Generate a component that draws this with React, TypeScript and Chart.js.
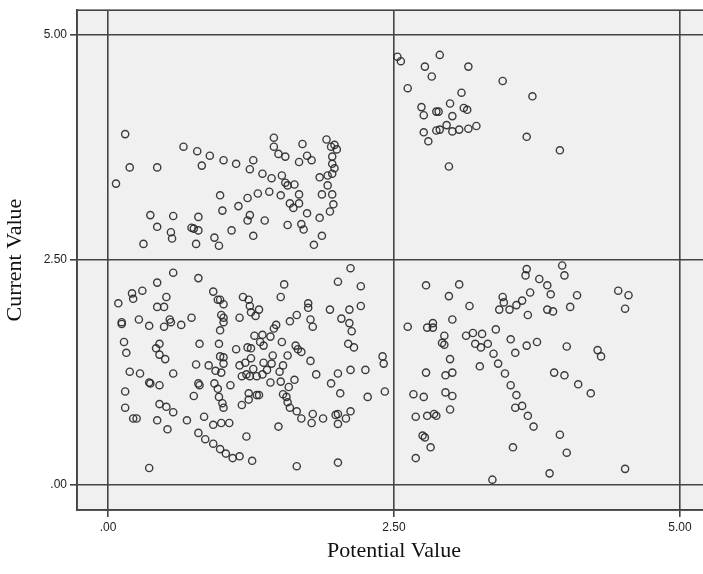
import React, { useEffect, useRef } from "react";
import { Chart, registerables } from "chart.js";

Chart.register(...registerables);

// [Potential Value, Current Value]
const upperLeft: [number, number][] = [
  [0.15, 3.9], [0.19, 3.53], [0.43, 3.53], [0.07, 3.35], [0.66, 3.76], [0.78, 3.71], [0.82, 3.55],
  [0.89, 3.66], [1.01, 3.61], [1.12, 3.57], [1.24, 3.51], [1.27, 3.61], [0.98, 3.22], [1.0, 3.05],
  [1.14, 3.1], [1.22, 3.19], [1.31, 3.24], [0.37, 3.0], [0.57, 2.99], [0.79, 2.98], [0.43, 2.87],
  [0.55, 2.81], [0.56, 2.74], [0.73, 2.86], [0.75, 2.85], [0.79, 2.83], [0.31, 2.68], [0.77, 2.68],
  [0.93, 2.75], [0.97, 2.66], [1.08, 2.83], [1.24, 3.0], [1.22, 2.94], [1.27, 2.77], [1.45, 3.86],
  [1.45, 3.76], [1.49, 3.68], [1.55, 3.65], [1.7, 3.79], [1.67, 3.59], [1.74, 3.66], [1.78, 3.61],
  [1.91, 3.84], [1.95, 3.76], [1.98, 3.78], [2.0, 3.73], [1.96, 3.65], [1.96, 3.57], [1.98, 3.52],
  [1.96, 3.46], [1.92, 3.44], [1.85, 3.42], [1.92, 3.33], [1.87, 3.23], [1.96, 3.23], [1.97, 3.12],
  [1.94, 3.04], [1.85, 2.97], [1.87, 2.77], [1.8, 2.67], [1.74, 3.02], [1.67, 3.23], [1.67, 3.13],
  [1.59, 3.13], [1.62, 3.08], [1.63, 3.34], [1.55, 3.36], [1.57, 3.33], [1.52, 3.44], [1.43, 3.41],
  [1.35, 3.46], [1.51, 3.22], [1.41, 3.26], [1.37, 2.94], [1.57, 2.89], [1.69, 2.9], [1.71, 2.84],
];

const upperRight: [number, number][] = [
  [2.53, 4.76], [2.56, 4.71], [2.9, 4.78], [2.77, 4.65], [3.15, 4.65], [2.83, 4.54], [2.62, 4.41],
  [3.45, 4.49], [3.09, 4.36], [3.71, 4.32], [2.99, 4.24], [2.74, 4.2], [2.76, 4.11], [2.87, 4.15],
  [2.89, 4.15], [3.11, 4.19], [3.14, 4.17], [3.01, 4.1], [2.96, 4.0], [3.22, 3.99], [3.15, 3.96],
  [3.07, 3.95], [3.01, 3.93], [2.9, 3.95], [2.87, 3.94], [2.76, 3.92], [2.8, 3.82], [3.66, 3.87],
  [3.95, 3.72], [2.98, 3.54],
];

const lowerLeft: [number, number][] = [
  [0.57, 2.36], [0.79, 2.3], [0.43, 2.25], [0.3, 2.16], [0.21, 2.13], [0.22, 2.07], [0.09, 2.02],
  [0.51, 2.09], [0.43, 1.98], [0.49, 1.98], [0.92, 2.15], [0.96, 2.06], [0.98, 2.06], [1.01, 2.01],
  [0.12, 1.81], [0.12, 1.79], [0.27, 1.84], [0.36, 1.77], [0.49, 1.76], [0.54, 1.84], [0.55, 1.81],
  [0.64, 1.78], [0.73, 1.86], [0.99, 1.89], [1.01, 1.86], [1.01, 1.81], [0.98, 1.72], [0.14, 1.59],
  [0.16, 1.47], [0.42, 1.52], [0.45, 1.57], [0.45, 1.45], [0.5, 1.4], [0.8, 1.57], [0.97, 1.57],
  [0.98, 1.43], [1.01, 1.42], [1.01, 1.35], [0.77, 1.34], [0.88, 1.33], [0.94, 1.27], [0.99, 1.25],
  [0.19, 1.26], [0.28, 1.24], [0.57, 1.24], [0.36, 1.14], [0.37, 1.13], [0.45, 1.11], [0.15, 1.04],
  [0.79, 1.13], [0.8, 1.11], [0.75, 0.99], [0.93, 1.13], [0.96, 1.07], [1.07, 1.11], [0.97, 0.98],
  [1.0, 0.91], [1.01, 0.86], [0.45, 0.9], [0.51, 0.87], [0.57, 0.81], [0.15, 0.86], [0.22, 0.74],
  [0.25, 0.74], [0.43, 0.72], [0.52, 0.62], [0.69, 0.72], [0.84, 0.76], [0.92, 0.67], [0.99, 0.69],
  [1.06, 0.69], [0.79, 0.58], [0.85, 0.51], [0.92, 0.46], [0.98, 0.4], [1.03, 0.35], [1.09, 0.3],
  [0.36, 0.19], [2.12, 2.41], [2.01, 2.26], [2.21, 2.21], [1.54, 2.23], [1.51, 2.09], [1.18, 2.09],
  [1.23, 2.06], [1.24, 1.99], [1.32, 1.95], [1.25, 1.92], [1.29, 1.88], [1.15, 1.86], [1.75, 2.02],
  [1.75, 1.97], [1.94, 1.95], [2.11, 1.95], [2.21, 1.99], [1.65, 1.89], [1.59, 1.82], [1.77, 1.84],
  [1.79, 1.76], [2.04, 1.85], [2.11, 1.8], [2.13, 1.71], [1.47, 1.78], [1.45, 1.74], [1.35, 1.67],
  [1.28, 1.66], [1.42, 1.65], [1.33, 1.59], [1.36, 1.55], [1.52, 1.59], [1.64, 1.55], [1.66, 1.51],
  [1.69, 1.48], [1.12, 1.51], [1.22, 1.53], [1.25, 1.52], [2.1, 1.57], [2.15, 1.53], [1.44, 1.44],
  [1.57, 1.44], [1.77, 1.38], [2.4, 1.43], [2.41, 1.35], [1.25, 1.41], [1.2, 1.36], [1.36, 1.36],
  [1.43, 1.35], [1.53, 1.33], [1.15, 1.33], [1.27, 1.29], [1.39, 1.28], [1.5, 1.26], [2.12, 1.28],
  [2.25, 1.28], [2.01, 1.24], [1.82, 1.23], [1.21, 1.23], [1.24, 1.21], [1.35, 1.23], [1.3, 1.21],
  [1.17, 1.21], [1.42, 1.14], [1.51, 1.15], [1.63, 1.17], [1.58, 1.09], [1.53, 1.01], [1.56, 0.98],
  [1.57, 0.92], [1.59, 0.86], [1.65, 0.82], [1.69, 0.74], [1.78, 0.69], [1.79, 0.79], [1.88, 0.74],
  [1.99, 0.78], [2.01, 0.79], [2.01, 0.68], [2.08, 0.74], [2.12, 0.82], [1.95, 1.13], [2.03, 1.02],
  [2.27, 0.98], [2.42, 1.04], [1.23, 1.02], [1.23, 0.95], [1.32, 1.0], [1.3, 1.0], [1.17, 0.89],
  [1.49, 0.65], [1.21, 0.54], [1.15, 0.32], [1.26, 0.27], [1.65, 0.21], [2.01, 0.25],
];

const lowerRight: [number, number][] = [
  [3.66, 2.4], [3.65, 2.33], [3.77, 2.29], [3.84, 2.22], [2.78, 2.22], [3.07, 2.23], [2.98, 2.1],
  [3.16, 1.99], [3.45, 2.09], [3.46, 2.03], [3.42, 1.95], [3.51, 1.95], [3.57, 2.0], [3.62, 2.05],
  [3.69, 2.14], [3.67, 1.89], [3.84, 1.95], [2.62, 1.76], [2.79, 1.75], [2.84, 1.8], [2.84, 1.75],
  [3.01, 1.84], [2.94, 1.66], [2.92, 1.58], [2.94, 1.56], [3.13, 1.66], [3.19, 1.69], [3.27, 1.68],
  [3.39, 1.73], [3.21, 1.57], [3.26, 1.53], [3.32, 1.57], [3.37, 1.46], [3.52, 1.62], [3.66, 1.55],
  [3.75, 1.59], [3.56, 1.47], [2.99, 1.4], [3.25, 1.32], [3.41, 1.35], [2.78, 1.25], [2.95, 1.22],
  [3.01, 1.25], [3.47, 1.24], [3.97, 2.44], [3.99, 2.33], [3.87, 2.12], [4.1, 2.11], [4.04, 1.98],
  [3.89, 1.93], [4.46, 2.16], [4.55, 2.11], [4.52, 1.96], [4.01, 1.54], [4.28, 1.5], [4.31, 1.43],
  [3.9, 1.25], [3.99, 1.22], [3.52, 1.11], [3.57, 1.0], [3.62, 0.88], [3.56, 0.86], [3.67, 0.77],
  [3.72, 0.65], [3.54, 0.42], [2.67, 1.01], [2.76, 0.98], [2.95, 1.03], [3.01, 0.99], [2.99, 0.84],
  [2.69, 0.76], [2.79, 0.77], [2.85, 0.79], [2.87, 0.77], [2.75, 0.55], [2.77, 0.53], [2.82, 0.42],
  [2.69, 0.3], [3.36, 0.06], [4.11, 1.12], [4.22, 1.02], [3.95, 0.56], [4.01, 0.36], [3.86, 0.13],
  [4.52, 0.18],
];

const xTicks = [0, 2.5, 5];
const yTicks = [0, 2.5, 5];
const xTitle = "Potential Value";
const yTitle = "Current Value";

const fmt = (v: number) => {
  const s = Number(v).toFixed(2);
  return s.startsWith("0") ? s.slice(1) : s;
};

const LINE = "#444444";

const framePlugin = {
  id: "frame",
  beforeDraw(chart: any) {
    const { ctx, chartArea } = chart;
    const { left, top, right, bottom } = chartArea;
    ctx.save();
    ctx.fillStyle = "#f0f0f0";
    ctx.fillRect(left, top, right - left, bottom - top);
    ctx.restore();
  },
  beforeDatasetsDraw(chart: any) {
    const { ctx, chartArea } = chart;
    const { left, top, right, bottom } = chartArea;
    ctx.save();
    ctx.strokeStyle = LINE;
    ctx.lineWidth = 1.6;
    ctx.strokeRect(left, top, right - left, bottom - top);
    ctx.restore();
  },
};

const toPts = (arr: [number, number][]) => arr.map(([x, y]) => ({ x, y }));

export default function App() {
  const ref = useRef<HTMLCanvasElement | null>(null);

  useEffect(() => {
    if (!ref.current) return;
    const pointStyle = {
      pointRadius: 3.6,
      pointBorderWidth: 1.4,
      pointBorderColor: "rgba(40,40,40,0.9)",
      pointBackgroundColor: "rgba(0,0,0,0)",
      pointHoverRadius: 3.6,
      showLine: false,
    };
    const chart = new Chart(ref.current, {
      type: "scatter",
      data: {
        datasets: [
          { label: "UL", data: toPts(upperLeft), ...pointStyle },
          { label: "UR", data: toPts(upperRight), ...pointStyle },
          { label: "LL", data: toPts(lowerLeft), ...pointStyle },
          { label: "LR", data: toPts(lowerRight), ...pointStyle },
        ],
      },
      options: {
        animation: false,
        responsive: false,
        devicePixelRatio: 1,
        layout: { padding: { left: 0, top: 8, right: 9, bottom: 0 } },
        plugins: { legend: { display: false }, tooltip: { enabled: false } },
        scales: {
          x: {
            type: "linear",
            min: -0.271,
            max: 5.271,
            afterBuildTicks: (s: any) => {
              s.ticks = xTicks.map((v) => ({ value: v }));
            },
            afterFit: (s: any) => {
              s.height = 64;
            },
            grid: { color: LINE, lineWidth: 1.6, tickLength: 7, tickColor: LINE, drawTicks: true },
            border: { display: true, color: LINE, width: 1.6 },
            ticks: {
              callback: (v: any) => fmt(v),
              font: { family: "'Liberation Sans', Arial, sans-serif", size: 12 },
              color: "#222",
              padding: 3,
              maxRotation: 0,
              autoSkip: false,
            },
            title: {
              display: true,
              text: xTitle,
              font: { family: "'Liberation Serif', 'Times New Roman', serif", size: 22 },
              color: "#111",
              padding: { top: 0, bottom: 10 },
            },
          },
          y: {
            type: "linear",
            min: -0.277,
            max: 5.277,
            afterBuildTicks: (s: any) => {
              s.ticks = yTicks.map((v) => ({ value: v }));
            },
            afterFit: (s: any) => {
              s.width = 77;
            },
            grid: { color: LINE, lineWidth: 1.6, tickLength: 7, tickColor: LINE, drawTicks: true },
            border: { display: true, color: LINE, width: 1.6 },
            ticks: {
              callback: (v: any) => fmt(v),
              font: { family: "'Liberation Sans', Arial, sans-serif", size: 12 },
              color: "#222",
              padding: 3,
              autoSkip: false,
            },
            title: {
              display: true,
              text: yTitle,
              font: { family: "'Liberation Serif', 'Times New Roman', serif", size: 22 },
              color: "#111",
              padding: { top: 2, bottom: 0 },
            },
          },
        },
      },
      plugins: [framePlugin],
    } as any);
    return () => chart.destroy();
  }, []);

  return (
    <div
      style={{
        position: "fixed",
        left: 0,
        top: 0,
        width: 703,
        height: 574,
        overflow: "hidden",
        background: "#fff",
      }}
    >
      <canvas ref={ref} width={720} height={574} style={{ width: 720, height: 574, display: "block" }} />
    </div>
  );
}
